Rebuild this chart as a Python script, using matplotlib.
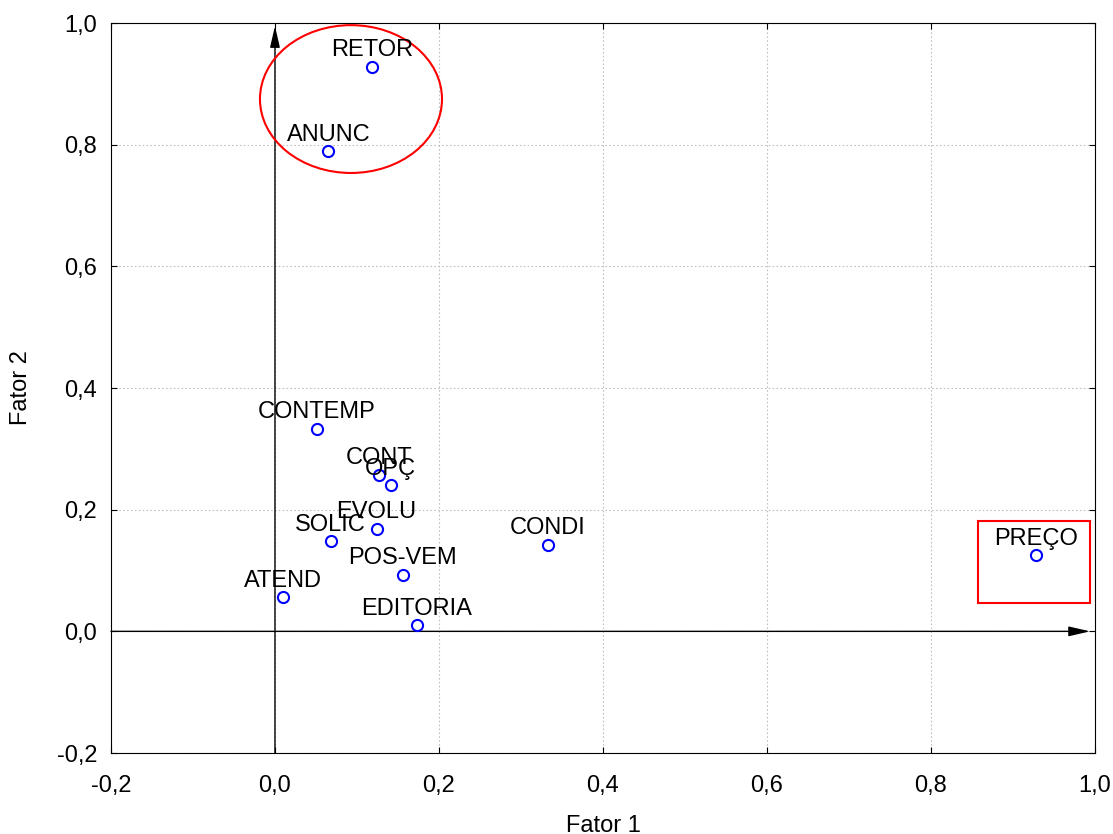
import matplotlib
matplotlib.use("Agg")
import matplotlib.pyplot as plt
from matplotlib.patches import Ellipse, Rectangle

plt.rcParams['font.family'] = ['Liberation Sans', 'DejaVu Sans']

# cargas fatoriais
nomes = ["RETOR", "ANUNC", "CONTEMP", "CONT", "OPÇ", "EVOLU", "SOLIC",
         "POS-VEM", "CONDI", "PREÇO", "ATEND", "EDITORIA"]
fator1 = [0.118, 0.065, 0.051, 0.127, 0.141, 0.124, 0.068, 0.156, 0.333, 0.928, 0.010, 0.173]
fator2 = [0.928, 0.789, 0.333, 0.257, 0.240, 0.168, 0.148, 0.093, 0.142, 0.125, 0.056, 0.010]

ticks = [-0.2, 0.0, 0.2, 0.4, 0.6, 0.8, 1.0]
tick_labels = ["-0,2", "0,0", "0,2", "0,4", "0,6", "0,8", "1,0"]

fig = plt.figure(figsize=(11.13, 8.34), dpi=100)
ax = fig.add_axes([0.0997, 0.0971, 0.8841, 0.8753])

ax.set_xlim(-0.2, 1.0)
ax.set_ylim(-0.2, 1.0)
ax.set_xticks(ticks)
ax.set_yticks(ticks)
ax.set_xticklabels(tick_labels)
ax.set_yticklabels(tick_labels)
ax.tick_params(direction='in', length=4, labelsize=17, top=True, right=True)
ax.tick_params(axis='x', pad=16)
ax.tick_params(axis='y', pad=10)
ax.grid(True, color='#c0c0c0', linestyle=(0, (1.5, 2)), linewidth=0.8)
ax.set_axisbelow(True)

# eixos com setas
seta = dict(arrowstyle="-|>,head_length=1.3,head_width=0.3",
            color='black', lw=1, shrinkA=0, shrinkB=0)
ax.annotate("", xy=(0.0, 0.995), xytext=(0.0, -0.2), arrowprops=seta)
ax.annotate("", xy=(0.994, 0.0), xytext=(-0.2, 0.0), arrowprops=seta)

ax.plot(fator1, fator2, 'o', markersize=8, markerfacecolor='none',
        markeredgecolor='blue', markeredgewidth=1.5, zorder=4)

for nome, x, y in zip(nomes, fator1, fator2):
    ax.annotate(nome, (x, y), xytext=(0, 12), textcoords='offset points',
                ha='center', va='center', fontsize=17, zorder=5)

# destaques
ax.add_patch(Ellipse((0.0927, 0.875), 0.222, 0.243, fill=False,
                     edgecolor='red', lw=1.5, zorder=3))
ax.add_patch(Rectangle((0.857, 0.0465), 0.137, 0.1345, fill=False,
                       edgecolor='red', lw=1.5, zorder=3))

ax.set_xlabel("Fator 1", fontsize=17, labelpad=13)
ax.set_ylabel("Fator 2", fontsize=17, labelpad=18)

fig.savefig("out.png", dpi=100)
